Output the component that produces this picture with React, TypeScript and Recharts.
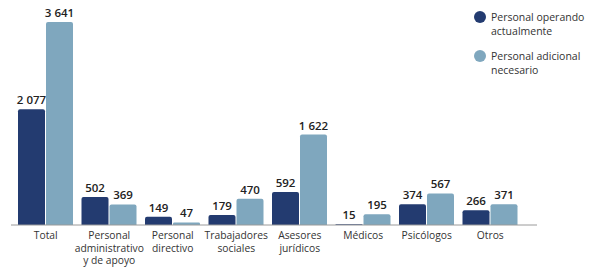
import React from 'react';
import { BarChart, Bar, XAxis, YAxis, LabelList } from 'recharts';

// Categories (line breaks as in the original tick labels)
const categories = [
  'Total',
  'Personal\nadministrativo\ny de apoyo',
  'Personal\ndirectivo',
  'Trabajadores\nsociales',
  'Asesores\njurídicos',
  'Médicos',
  'Psicólogos',
  'Otros',
];
const operando = [2077, 502, 149, 179, 592, 15, 374, 266];
const adicional = [3641, 369, 47, 470, 1622, 195, 567, 371];

const legendLines = [
  ['Personal operando', 'actualmente'],
  ['Personal adicional', 'necesario'],
];
const COLORS = ['#233b70', '#7fa7be'];
const FONT = '"Open Sans", sans-serif';

const data = categories.map((c, i) => ({
  name: c,
  operando: operando[i],
  adicional: adicional[i],
}));

// thousands separated by a non-breaking space so the label doesn't wrap
const fmt = (v: number) => String(v).replace(/\B(?=(\d{3})+(?!\d))/g, '\u00a0');

const CategoryTick = ({ x, y, payload }: any) => {
  const lines = String(payload.value).split('\n');
  return (
    <text x={x} y={y + 6} textAnchor="middle" fontFamily={FONT} fontSize={10.3} fill="#333">
      {lines.map((l, i) => (
        <tspan key={i} x={x} dy={i === 0 ? 0 : 12.5}>
          {l}
        </tspan>
      ))}
    </text>
  );
};

const ChartLegend = () => (
  <div
    style={{
      position: 'absolute',
      top: 10,
      left: 474,
      fontFamily: FONT,
      fontSize: 10.5,
      fontWeight: 500,
      color: '#333',
      lineHeight: '14px',
    }}
  >
    {legendLines.map((lines, i) => (
      <div key={i} style={{ display: 'flex', alignItems: 'flex-start', marginBottom: 11 }}>
        <span
          style={{
            width: 12,
            height: 12,
            borderRadius: 6,
            background: COLORS[i],
            marginRight: 5,
            marginTop: 1,
            flexShrink: 0,
          }}
        />
        <div>
          {lines.map((l, j) => (
            <div key={j}>{l}</div>
          ))}
        </div>
      </div>
    ))}
  </div>
);

const App = () => {
  return (
    <div style={{ position: 'absolute', top: 0, left: 0, width: 595, height: 267, background: '#fff', overflow: 'hidden' }}>
      <BarChart
        width={595}
        height={267}
        data={data}
        margin={{ top: 22, right: 58, bottom: 0, left: 11 }}
        barCategoryGap={4}
        barGap={1}
        style={{ overflow: 'visible' }}
      >
        <XAxis
          dataKey="name"
          interval={0}
          tickLine={false}
          axisLine={{ stroke: '#9a9a9a' }}
          tick={<CategoryTick />}
          height={42}
          padding={{ left: 3, right: 15 }}
        />
        <YAxis hide domain={[0, 3641]} />
        <Bar dataKey="operando" fill={COLORS[0]} radius={[2, 2, 0, 0]} isAnimationActive={false}>
          <LabelList dataKey="operando" position="top" formatter={fmt} fill="#222" fontSize={11.5} fontFamily={FONT} fontWeight={600} />
        </Bar>
        <Bar dataKey="adicional" fill={COLORS[1]} radius={[2, 2, 0, 0]} isAnimationActive={false}>
          <LabelList dataKey="adicional" position="top" formatter={fmt} fill="#222" fontSize={11.5} fontFamily={FONT} fontWeight={600} />
        </Bar>
      </BarChart>
      <ChartLegend />
    </div>
  );
};

export default App;
